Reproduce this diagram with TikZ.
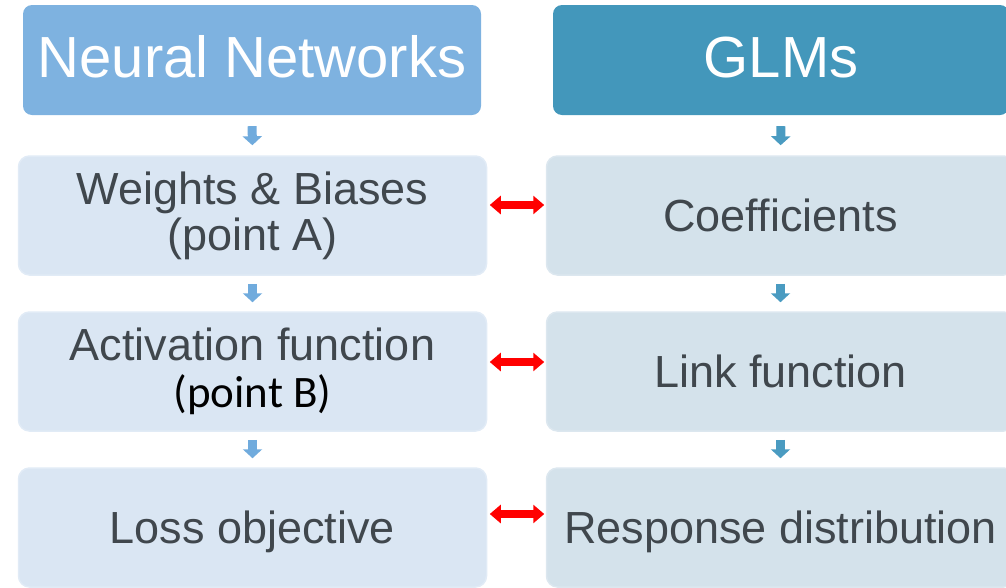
\documentclass[tikz,border=0pt]{standalone}
\usepackage{fontspec}
\setmainfont{Liberation Sans}
\newfontfamily\calib{Carlito}
\usetikzlibrary{arrows.meta}
\definecolor{hdrL}{HTML}{7EB2E0}
\definecolor{hdrR}{HTML}{4397BB}
\definecolor{boxL}{HTML}{DAE6F3}
\definecolor{boxR}{HTML}{D4E2EB}
\definecolor{edgeL}{HTML}{E1EBF6}
\definecolor{edgeR}{HTML}{DCE7EF}
\definecolor{txt}{HTML}{40474D}
\definecolor{arrL}{HTML}{70ABDD}
\definecolor{arrR}{HTML}{4A9BC1}
\definecolor{red}{HTML}{FF0000}
\tikzset{
  hdr/.style={rounded corners=9pt, inner sep=0pt, minimum height=110pt, text=white,
    font=\fontsize{58}{60}\selectfont, text height=42pt, text depth=8pt},
  cell/.style={rounded corners=11pt, inner sep=0pt, minimum width=468pt, minimum height=119pt,
    text=txt, align=center, font=\fontsize{45}{46}\selectfont, line width=1.5pt},
  one/.style={text height=32pt, text depth=0pt},
  downL/.style={draw=arrL, line width=9pt, -{Triangle[width=19pt,length=9pt]}},
  downR/.style={draw=arrR, line width=9pt, -{Triangle[width=19pt,length=9pt]}},
  link/.style={draw=red, line width=8pt, {Triangle[width=18pt,length=11pt]}-{Triangle[width=18pt,length=11pt]}},
}
\begin{document}
\begin{tikzpicture}[x=1pt,y=-1pt]
\useasboundingbox (0,0) rectangle (1006,587);
\clip (0,0) rectangle (1006,587);
% headers
\node[hdr, fill=hdrL, minimum width=458pt] (hL) at (252,60) {Neural Networks};
\node[hdr, fill=hdrR, minimum width=456pt] (hR) at (781,60) {GLMs};
% left column
\node[cell, fill=boxL, draw=edgeL] (l1) at (252.5,215.5) {Weights \& Biases\\(point A)};
\node[cell, fill=boxL, draw=edgeL] (l2) at (252.5,371.5) {Activation function\\[1pt]{\calib\color{black}(point B)}};
\node[cell, fill=boxL, draw=edgeL, one] (l3) at (252.5,527.5) {Loss objective};
% right column
\node[cell, fill=boxR, draw=edgeR, one] (r1) at (780.5,215.5) {Coefficients};
\node[cell, fill=boxR, draw=edgeR, one] (r2) at (780.5,371.5) {Link function};
\node[cell, fill=boxR, draw=edgeR, one] (r3) at (780.5,527.5) {Response distribution};
% down arrows
\draw[downL, shorten <=11pt, shorten >=10pt] (hL.south) -- (l1.north);
\draw[downL, shorten <=8pt, shorten >=9pt] (l1.south) -- (l2.north);
\draw[downL, shorten <=8pt, shorten >=9pt] (l2.south) -- (l3.north);
\draw[downR, shorten <=11pt, shorten >=10pt] (hR.south) -- (r1.north);
\draw[downR, shorten <=8pt, shorten >=9pt] (r1.south) -- (r2.north);
\draw[downR, shorten <=8pt, shorten >=9pt] (r2.south) -- (r3.north);
% red links
\draw[link, shorten <=2.5pt, shorten >=1.5pt] ([yshift=10.5pt]l1.east) -- ([yshift=10.5pt]r1.west);
\draw[link, shorten <=2.5pt, shorten >=1.5pt] ([yshift=9.5pt]l2.east) -- ([yshift=9.5pt]r2.west);
\draw[link, shorten <=2.5pt, shorten >=1.5pt] ([yshift=13.5pt]l3.east) -- ([yshift=13.5pt]r3.west);
\end{tikzpicture}
\end{document}
